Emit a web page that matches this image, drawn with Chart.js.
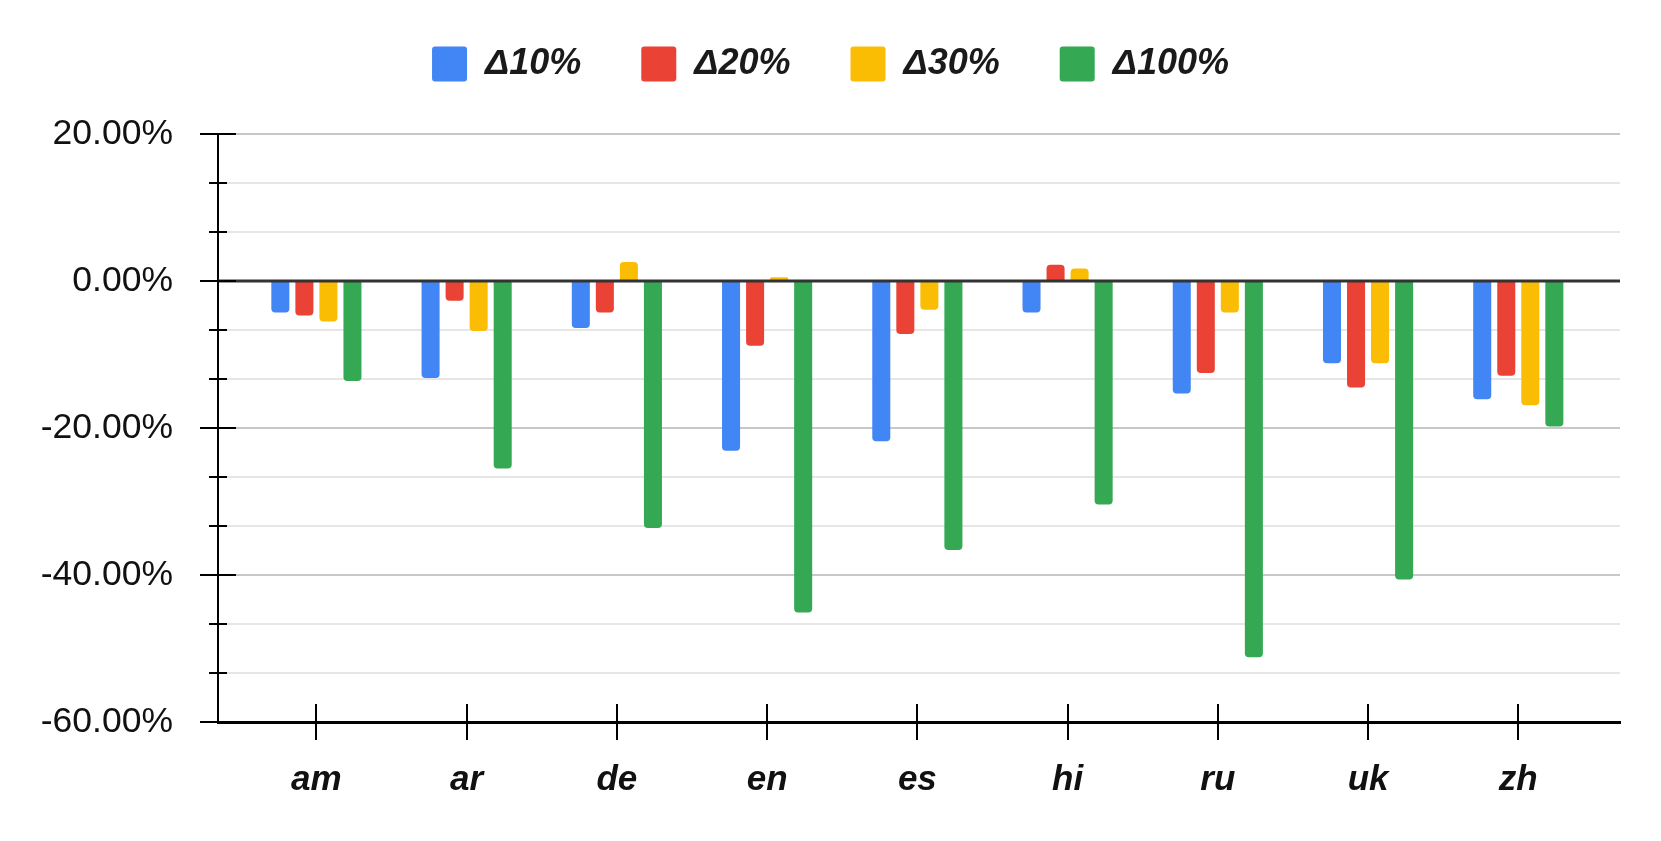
<!DOCTYPE html>
<html>
<head>
<meta charset="utf-8">
<script src="https://cdn.jsdelivr.net/npm/chart.js@4.4.1/dist/chart.umd.min.js"></script>
<style>
  html, body { margin: 0; padding: 0; background: #fff; }
  #chart { display: block; }
</style>
</head>
<body>
<canvas id="chart" width="1661" height="841"></canvas>
<script>
/* -------------------------------------------------------
   Data
------------------------------------------------------- */
const categories = ['am', 'ar', 'de', 'en', 'es', 'hi', 'ru', 'uk', 'zh'];
const seriesNames = ['\u039410%', '\u039420%', '\u039430%', '\u0394100%'];
const delta10  = [-4.3, -13.2, -6.4, -23.1, -21.8, -4.3, -15.3, -11.2, -16.1];
const delta20  = [-4.7,  -2.7, -4.3,  -8.8,  -7.2,  2.2, -12.5, -14.5, -12.9];
const delta30  = [-5.5,  -6.8,  2.6,   0.5,  -3.9,  1.7,  -4.3, -11.2, -16.9];
const delta100 = [-13.6, -25.5, -33.6, -45.1, -36.6, -30.4, -51.2, -40.6, -19.8];
const yMajorTicks = [-60, -40, -20, 0, 20];
const yMinorPerMajor = 3;

const colors = ['#4285F4', '#EA4335', '#FBBC04', '#34A853'];
const FONT = "'Liberation Sans', Arial, sans-serif";

/* -------------------------------------------------------
   Helpers
------------------------------------------------------- */
const toPoints = arr => arr.map((v, i) => ({ x: i, y: v }));
const isMajor = v => yMajorTicks.some(m => Math.abs(m - v) < 1e-6);

// tick marks that cross the axes + zero line drawn over the bars
const axisDecor = {
  id: 'axisDecor',
  afterDatasetsDraw(chart) {
    const { ctx, chartArea: a, scales: { y } } = chart;
    const y0 = y.getPixelForValue(0);
    ctx.save();
    ctx.strokeStyle = '#333';
    ctx.lineWidth = 3;
    ctx.beginPath();
    ctx.moveTo(a.left, y0);
    ctx.lineTo(a.right, y0);
    ctx.stroke();
    ctx.restore();
  },
  afterDraw(chart) {
    const { ctx, chartArea: a, scales: { x, y } } = chart;
    ctx.save();
    ctx.strokeStyle = '#000';
    ctx.lineWidth = 2;
    ctx.beginPath();
    y.ticks.forEach(t => {
      const py = Math.round(y.getPixelForValue(t.value));
      const len = isMajor(t.value) ? 18 : 9;
      ctx.moveTo(a.left - len, py);
      ctx.lineTo(a.left + len, py);
    });
    x.ticks.forEach(t => {
      const px = Math.round(x.getPixelForValue(t.value));
      ctx.moveTo(px, a.bottom - 18);
      ctx.lineTo(px, a.bottom + 18);
    });
    ctx.stroke();
    ctx.restore();
  }
};

/* -------------------------------------------------------
   Chart
------------------------------------------------------- */
const series = [delta10, delta20, delta30, delta100];

new Chart(document.getElementById('chart'), {
  type: 'bar',
  data: {
    datasets: series.map((arr, i) => ({
      label: seriesNames[i],
      data: toPoints(arr),
      backgroundColor: colors[i],
      borderWidth: 0,
      borderRadius: 4,
      barPercentage: 0.75,
      categoryPercentage: 0.64
    }))
  },
  options: {
    responsive: false,
    animation: false,
    devicePixelRatio: 1,
    layout: { padding: { top: -14, right: 41, bottom: 0, left: 41 } },
    plugins: {
      tooltip: { enabled: false },
      legend: {
        position: 'top',
        labels: {
          boxWidth: 35,
          boxHeight: 35,
          padding: 60,
          useBorderRadius: true,
          borderRadius: 3,
          color: '#1a1a1a',
          font: { family: FONT, size: 36, style: 'italic', weight: 'bold' }
        }
      }
    },
    scales: {
      x: {
        type: 'linear',
        position: 'bottom',
        min: -0.655,
        max: 8.677,
        offset: false,
        afterBuildTicks: s => { s.ticks = categories.map((_, i) => ({ value: i })); },
        afterFit: s => { s.height = 119; },
        grid: { drawOnChartArea: false, drawTicks: false },
        border: { display: true, color: '#000', width: 3 },
        ticks: {
          padding: 37,
          color: '#111',
          font: { family: FONT, size: 35, style: 'italic', weight: 'bold' },
          callback: v => categories[v] ?? ''
        }
      },
      top: {
        type: 'linear',
        position: 'top',
        afterFit: s => { s.height = 42; },
        grid: { display: false },
        border: { display: false },
        ticks: { display: false }
      },
      y: {
        min: yMajorTicks[0],
        max: yMajorTicks[yMajorTicks.length - 1],
        afterBuildTicks: s => {
          const ticks = [];
          for (let i = 0; i < yMajorTicks.length - 1; i++) {
            const lo = yMajorTicks[i], hi = yMajorTicks[i + 1];
            for (let k = 0; k < yMinorPerMajor; k++) {
              ticks.push({ value: lo + (hi - lo) * k / yMinorPerMajor });
            }
          }
          ticks.push({ value: yMajorTicks[yMajorTicks.length - 1] });
          s.ticks = ticks;
        },
        afterFit: s => { s.width = 177; },
        grid: {
          drawTicks: false,
          color: c => Math.abs(c.tick.value) < 1e-6 ? '#333' : (isMajor(c.tick.value) ? '#c8c8c8' : '#e6e6e6'),
          lineWidth: 2
        },
        border: { display: true, color: '#000', width: 2 },
        ticks: {
          padding: 45,
          color: '#111',
          font: { family: FONT, size: 35.5 },
          callback: v => isMajor(v) ? Math.round(v).toFixed(2) + '%' : ''
        }
      }
    }
  },
  plugins: [axisDecor]
});
</script>
</body>
</html>
